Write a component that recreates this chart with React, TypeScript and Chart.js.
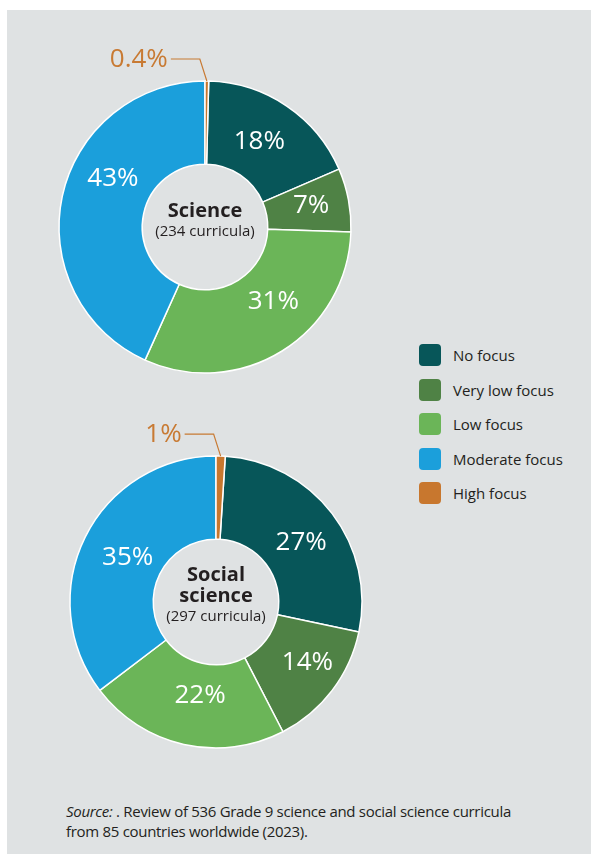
import React, { useEffect, useRef } from "react";
import { Chart, registerables } from "chart.js";

Chart.register(...registerables);

const categories = ["No focus", "Very low focus", "Low focus", "Moderate focus", "High focus"];
const colors = ["#075659", "#4f8245", "#6bb558", "#1b9fdb", "#c8772e"];
const scienceValues = [18, 7, 31, 43, 0.4];
const socialValues = [27, 14, 22, 35, 1];
const scienceTitle = ["Science"];
const socialTitle = ["Social", "science"];
const scienceSub = "(234 curricula)";
const socialSub = "(297 curricula)";
const scienceNudge = [-2, -1, -11, 16, 0];
const socialNudge = [2, -4, -3, 1, 0];
const scienceRadial = [-2, 4, -4, 0, 0];
const socialRadial = [0, 5, -10, -5, 0];

const FONT = "'Open Sans', 'Noto Sans', sans-serif";
const TEXT = "#231f20";
const ORANGE = "#c87a33";

function makeLabelPlugin(nudges: number[], radial: number[], title: string[], sub: string) {
  return {
    id: "donutLabels",
    afterDatasetsDraw(chart: any) {
      const ctx = chart.ctx;
      const meta = chart.getDatasetMeta(0);
      const data = chart.data.datasets[0].data as number[];
      ctx.save();
      meta.data.forEach((arc: any, i: number) => {
        const p = arc.getProps(["x", "y", "startAngle", "endAngle", "innerRadius", "outerRadius"], true);
        const v = data[i];
        const mid = (p.startAngle + p.endAngle) / 2;
        if (v < 2) {
          const ox = p.x + Math.cos(mid) * p.outerRadius;
          const oy = p.y + Math.sin(mid) * p.outerRadius;
          const kx = ox - 7;
          const ky = oy - 22;
          const ex = kx - 29;
          ctx.strokeStyle = ORANGE;
          ctx.lineWidth = 1.2;
          ctx.beginPath();
          ctx.moveTo(ox, oy);
          ctx.lineTo(kx, ky);
          ctx.lineTo(ex, ky);
          ctx.stroke();
          ctx.fillStyle = ORANGE;
          ctx.font = `400 26px ${FONT}`;
          ctx.textAlign = "right";
          ctx.textBaseline = "middle";
          ctx.fillText(`${v}%`, ex - 3, ky + 1);
        } else {
          const a = mid + (nudges[i] * Math.PI) / 180;
          const r = (p.innerRadius + p.outerRadius) / 2 + radial[i];
          ctx.fillStyle = "#ffffff";
          ctx.font = `400 26px ${FONT}`;
          ctx.textAlign = "center";
          ctx.textBaseline = "middle";
          ctx.fillText(`${v}%`, p.x + Math.cos(a) * r, p.y + Math.sin(a) * r + 1);
        }
      });
      const cx = meta.data[0].x;
      const cy = meta.data[0].y;
      const lines = title.length;
      const lh = 21;
      const top = cy - 16 - (lines - 1) * 11;
      ctx.fillStyle = TEXT;
      ctx.textAlign = "center";
      ctx.textBaseline = "middle";
      ctx.font = `700 20px ${FONT}`;
      title.forEach((t, j) => ctx.fillText(t, cx, top + j * lh));
      ctx.font = `400 15px ${FONT}`;
      ctx.fillText(sub, cx, top + lines * lh);
      ctx.restore();
    },
  };
}

function Donut(props: { values: number[]; nudges: number[]; radial: number[]; title: string[]; sub: string; style: any }) {
  const ref = useRef<HTMLCanvasElement>(null);
  useEffect(() => {
    if (!ref.current) return;
    const total = props.values.reduce((s, v) => s + v, 0);
    const lastShare = props.values[props.values.length - 1] / total;
    const chart = new Chart(ref.current, {
      type: "doughnut",
      data: {
        labels: categories,
        datasets: [
          {
            data: props.values,
            backgroundColor: colors,
            borderColor: "#ffffff",
            borderWidth: 1.5,
          },
        ],
      },
      options: {
        animation: false,
        responsive: false,
        maintainAspectRatio: false,
        radius: 146,
        cutout: "43%",
        rotation: lastShare * 360,
        layout: { padding: 0 },
        plugins: { legend: { display: false }, tooltip: { enabled: false } },
      } as any,
      plugins: [makeLabelPlugin(props.nudges, props.radial, props.title, props.sub)],
    });
    return () => chart.destroy();
  }, []);
  return <canvas ref={ref} width={380} height={380} style={{ position: "absolute", ...props.style }} />;
}

export default function App() {
  useEffect(() => {
    document.body.style.margin = "0";
  }, []);
  return (
    <div style={{ position: "relative", width: 591, height: 854, background: "#ffffff", overflow: "hidden", fontFamily: FONT }}>
      <div style={{ position: "absolute", left: 7, top: 10, width: 584, height: 844, background: "#dfe2e3" }} />
      <Donut values={scienceValues} nudges={scienceNudge} radial={scienceRadial} title={scienceTitle} sub={scienceSub} style={{ left: 15, top: 37 }} />
      <Donut values={socialValues} nudges={socialNudge} radial={socialRadial} title={socialTitle} sub={socialSub} style={{ left: 26, top: 412 }} />
      <div style={{ position: "absolute", left: 419, top: 338 }}>
        {categories.map((c, i) => (
          <div key={c} style={{ display: "flex", alignItems: "center", height: 34.5 }}>
            <div style={{ width: 22, height: 22, borderRadius: 4, background: colors[i], marginRight: 12 }} />
            <span style={{ fontSize: 15, color: TEXT }}>{c}</span>
          </div>
        ))}
      </div>
      <div style={{ position: "absolute", left: 66, top: 801, fontSize: 15, lineHeight: "20px", color: TEXT, letterSpacing: "-0.3px" }}>
        <div>
          <i>Source:</i> . Review of 536 Grade 9 science and social science curricula
        </div>
        <div>from 85 countries worldwide (2023).</div>
      </div>
    </div>
  );
}
